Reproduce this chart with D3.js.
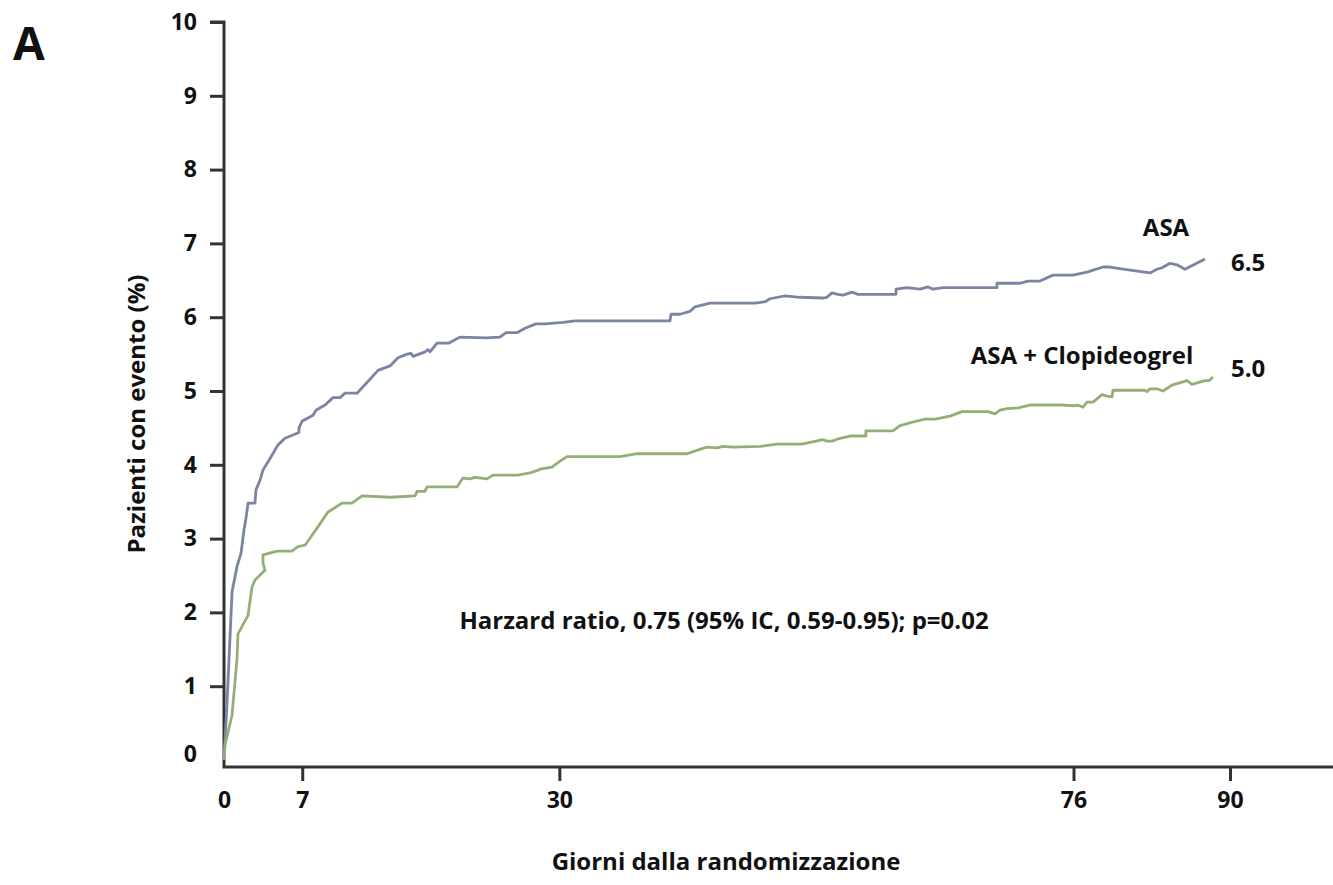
<!DOCTYPE html>
<html>
<head>
<meta charset="utf-8">
<script src="https://cdn.jsdelivr.net/npm/d3@7"></script>
<style>
  body { margin: 0; background: #fff; }
  text { font-family: "Open Sans", sans-serif; font-weight: 700; fill: #111; }
</style>
</head>
<body>
<div id="chart"></div>
<script>
// ASA alone
const asaDays = [0, 0.27, 0.72, 1.16, 1.52, 1.79, 1.97, 2.15, 2.77, 2.86, 3.22, 3.49, 3.94, 4.29, 4.83, 5.46, 6.44, 6.71, 6.71, 6.98,
  7.96, 8.23, 9.04, 9.75, 10.38, 10.82, 11.90, 13.06, 13.78, 14.85, 15.57, 16.37, 16.73, 16.91, 17.98, 18.25, 18.43, 19.06, 20.13, 21.11,
  23.44, 24.69, 25.23, 26.21, 26.93, 27.91, 28.72, 30.33, 31.40, 39.90, 39.99, 40.79, 41.69, 42.14, 43.48, 47.50, 48.40, 48.85, 50.19, 51.53,
  53.59, 53.94, 54.39, 54.93, 55.38, 56.18, 56.72, 60.12, 60.12, 61.10, 62.27, 62.98, 63.43, 64.32, 69.15, 69.15, 70.05, 71.21, 71.93, 73.00,
  74.16, 75.95, 77.21, 78.64, 79.26, 80.43, 82.84, 83.47, 83.92, 84.63, 85.26, 85.97, 87.76];
const asaPct = [0, 0.77, 2.28, 2.62, 2.80, 3.12, 3.28, 3.48, 3.48, 3.66, 3.79, 3.93, 4.04, 4.13, 4.27, 4.36, 4.42, 4.44, 4.50, 4.59,
  4.67, 4.74, 4.81, 4.91, 4.91, 4.97, 4.97, 5.16, 5.28, 5.34, 5.45, 5.50, 5.51, 5.47, 5.53, 5.56, 5.53, 5.65, 5.65, 5.73,
  5.72, 5.73, 5.79, 5.79, 5.85, 5.91, 5.91, 5.93, 5.95, 5.95, 6.04, 6.04, 6.08, 6.14, 6.19, 6.19, 6.21, 6.25, 6.29, 6.27,
  6.26, 6.27, 6.33, 6.31, 6.30, 6.34, 6.31, 6.31, 6.38, 6.40, 6.38, 6.41, 6.38, 6.40, 6.40, 6.46, 6.46, 6.46, 6.49, 6.49,
  6.57, 6.57, 6.61, 6.68, 6.68, 6.65, 6.60, 6.65, 6.67, 6.73, 6.71, 6.65, 6.79];

// ASA + Clopidogrel
const clopDays = [0, 0.09, 0.72, 1.16, 1.25, 2.15, 2.50, 2.77, 3.67, 3.49, 3.49, 4.74, 6.08, 6.62, 7.25, 8.41, 9.30, 10.56, 11.45, 12.35,
  14.85, 17.09, 17.27, 17.98, 18.16, 20.84, 21.38, 22.01, 22.45, 23.53, 24.06, 26.30, 27.38, 28.00, 28.27, 29.34, 30.06, 30.69, 35.43, 36.95,
  41.42, 42.58, 43.21, 44.10, 44.64, 45.54, 47.95, 49.47, 51.71, 53.59, 53.94, 54.39, 54.93, 56.00, 57.43, 57.43, 59.85, 60.48, 61.64, 62.71,
  63.61, 64.95, 66.02, 68.35, 68.97, 69.42, 70.05, 71.03, 72.11, 75.06, 75.95, 76.40, 76.85, 77.21, 77.74, 78.55, 79.00, 79.44, 79.53, 82.39,
  82.57, 82.84, 83.47, 84.00, 84.81, 86.15, 86.60, 87.05, 87.76, 88.12, 88.48];
const clopPct = [0, 0.20, 0.61, 1.36, 1.71, 1.96, 2.34, 2.44, 2.57, 2.67, 2.78, 2.83, 2.83, 2.89, 2.91, 3.16, 3.36, 3.48, 3.48, 3.58,
  3.56, 3.58, 3.64, 3.64, 3.70, 3.70, 3.82, 3.81, 3.83, 3.81, 3.86, 3.86, 3.89, 3.92, 3.94, 3.97, 4.05, 4.11, 4.11, 4.15,
  4.15, 4.21, 4.24, 4.23, 4.25, 4.24, 4.25, 4.28, 4.28, 4.34, 4.32, 4.32, 4.35, 4.39, 4.39, 4.46, 4.46, 4.53, 4.58, 4.62,
  4.62, 4.66, 4.72, 4.72, 4.69, 4.74, 4.76, 4.77, 4.81, 4.81, 4.80, 4.81, 4.78, 4.85, 4.85, 4.95, 4.93, 4.92, 5.01, 5.01,
  4.99, 5.03, 5.03, 5.00, 5.08, 5.14, 5.09, 5.11, 5.14, 5.14, 5.19];

const xTicks = [0, 7, 30, 76, 90];
const yTicks = [0, 1, 2, 3, 4, 5, 6, 7, 8, 9, 10];

const width = 1333, height = 885;

const svg = d3.select('#chart')
  .append('svg')
  .attr('width', width)
  .attr('height', height);

const x = d3.scaleLinear().domain([0, 90]).range([224, 1230]);
const y = d3.scaleLinear().domain([0, 10]).range([760, 22]);
const axisY = 767;

// y axis
const gy = svg.append('g')
  .attr('transform', 'translate(224,0)')
  .call(d3.axisLeft(y).tickValues(yTicks).tickSize(14).tickPadding(13).tickFormat(d3.format('d')));
gy.select('.domain').remove();
gy.selectAll('.tick line').attr('stroke', '#333').attr('stroke-width', 3);
gy.selectAll('.tick').filter(d => d === 0).select('line').remove();
gy.selectAll('.tick').filter(d => d === 0).select('text').attr('dy', '0.05em');
gy.selectAll('.tick text').style('font-size', '23px').attr('fill', '#111');

// x axis
const gx = svg.append('g')
  .attr('transform', `translate(0,${axisY})`)
  .call(d3.axisBottom(x).tickValues(xTicks).tickSize(14).tickPadding(11));
gx.select('.domain').remove();
gx.selectAll('.tick line').attr('stroke', '#333').attr('stroke-width', 3);
gx.selectAll('.tick').filter(d => d === 0).select('line').remove();
gx.selectAll('.tick text').style('font-size', '23px').attr('fill', '#111');

// axis lines
svg.append('path')
  .attr('d', `M210,${y(10)}H224V${axisY}H${width}`)
  .attr('fill', 'none')
  .attr('stroke', '#333')
  .attr('stroke-width', 3);

const line = d3.line().x(d => x(d[0])).y(d => y(d[1]));

svg.append('path')
  .datum(d3.zip(asaDays, asaPct))
  .attr('d', line)
  .attr('fill', 'none')
  .attr('stroke', '#7b84a2')
  .attr('stroke-width', 2.8)
  .attr('stroke-linejoin', 'round');

svg.append('path')
  .datum(d3.zip(clopDays, clopPct))
  .attr('d', line)
  .attr('fill', 'none')
  .attr('stroke', '#93ae77')
  .attr('stroke-width', 2.8)
  .attr('stroke-linejoin', 'round');

// texts
svg.append('text').attr('x', 13).attr('y', 60).style('font-size', '46px').text('A');

svg.append('text')
  .attr('transform', 'translate(145,414) rotate(-90)')
  .attr('text-anchor', 'middle')
  .style('font-size', '24px')
  .text('Pazienti con evento (%)');

svg.append('text')
  .attr('x', 726).attr('y', 870)
  .attr('text-anchor', 'middle')
  .style('font-size', '24px')
  .text('Giorni dalla randomizzazione');

svg.append('text')
  .attr('x', 724).attr('y', 629)
  .attr('text-anchor', 'middle')
  .style('font-size', '24px')
  .text('Harzard ratio, 0.75 (95% IC, 0.59-0.95); p=0.02');

svg.append('text').attr('x', 1166).attr('y', 236).attr('text-anchor', 'middle')
  .style('font-size', '24px').text('ASA');
svg.append('text').attr('x', 1231).attr('y', 271)
  .style('font-size', '24px').text('6.5');
svg.append('text').attr('x', 1082).attr('y', 364).attr('text-anchor', 'middle')
  .style('font-size', '24px').text('ASA + Clopideogrel');
svg.append('text').attr('x', 1231).attr('y', 377)
  .style('font-size', '24px').text('5.0');
</script>
</body>
</html>
